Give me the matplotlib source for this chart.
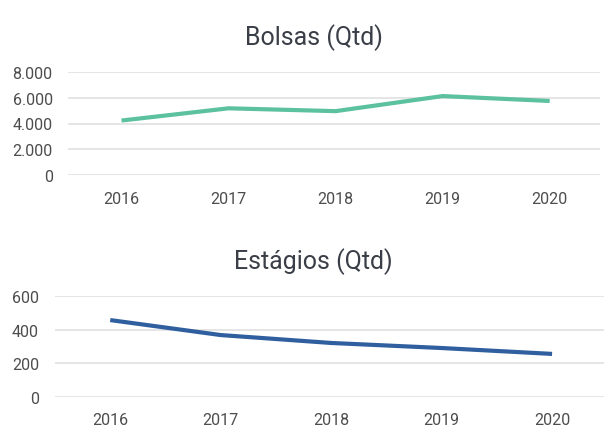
import matplotlib.pyplot as plt
from matplotlib.ticker import FuncFormatter

anos = ['2016', '2017', '2018', '2019', '2020']
bolsas = [4230, 5180, 4960, 6130, 5750]
estagios = [457, 368, 321, 291, 256]

verde = '#5cc19e'
azul = '#2f5f9e'
cinza = '#4d4d4d'

plt.rcParams['font.family'] = ['Roboto', 'DejaVu Sans']

fig = plt.figure(figsize=(6.14, 4.27), dpi=100)
fig.patch.set_facecolor('white')

ax1 = fig.add_axes([68/614, 1 - 176/427, (600-68)/614, (176-73)/427])
ax2 = fig.add_axes([55/614, 1 - 398/427, (604-55)/614, (398-297)/427])


def ponto(v, pos):
    return f'{int(v):,}'.replace(',', '.')


def estilo(ax, ymax, passo, padx, pady):
    ax.set_xlim(-0.5, 4.47)
    ax.set_ylim(0, ymax)
    ax.set_yticks(range(0, ymax + 1, passo))
    ax.yaxis.set_major_formatter(FuncFormatter(ponto))
    for s in ax.spines.values():
        s.set_visible(False)
    ax.grid(axis='y', color='#dedede', linewidth=1.1)
    ax.set_axisbelow(True)
    ax.tick_params(axis='both', length=0, labelsize=11.5, labelcolor=cinza)
    ax.tick_params(axis='y', pad=pady)
    ax.tick_params(axis='x', pad=padx)


ax1.plot(range(len(anos)), bolsas, color=verde, linewidth=3, solid_capstyle='butt')
ax1.set_xticks(range(len(anos)))
ax1.set_xticklabels(anos)
estilo(ax1, 8000, 2000, 11.5, 11)

ax2.plot(range(len(anos)), estagios, color=azul, linewidth=3, solid_capstyle='butt')
ax2.set_xticks(range(len(anos)))
ax2.set_xticklabels(anos)
estilo(ax2, 600, 200, 10.5, 11.5)

fig.text(314/614, 1 - 38/427, 'Bolsas (Qtd)', ha='center', va='center',
         fontsize=18, color='#3a3f47')
fig.text(313/614, 1 - 262/427, 'Estágios (Qtd)', ha='center', va='center',
         fontsize=18, color='#3a3f47')

fig.savefig('out.png', dpi=100)
